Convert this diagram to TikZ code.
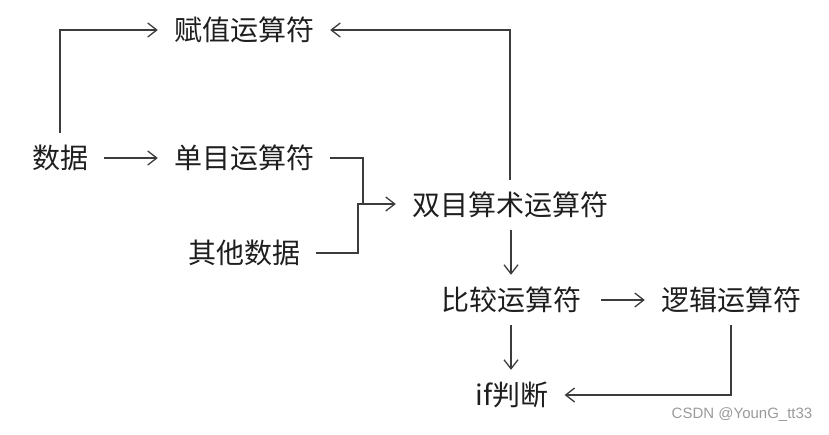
\documentclass[tikz,border=0pt]{standalone}
\usepackage{fontspec}
\newfontfamily\cjkfont{Noto Sans CJK SC}
\newfontfamily\wmfont{Liberation Sans}
\usetikzlibrary{arrows.meta}
\definecolor{linec}{HTML}{3C3C3C}
\definecolor{textc}{HTML}{1E1E1E}
\definecolor{wmc}{HTML}{9A9A9A}
\tikzset{
  lbl/.style={inner xsep=16pt, inner ysep=0pt, minimum height=50pt, text=textc, font=\cjkfont\fontsize{28}{30}\selectfont},
  conn/.style={draw=linec, line width=1.3pt},
  arr/.style={conn, -{Straight Barb[length=9pt,width=14pt,line width=1.3pt]}}
}
\begin{document}
\begin{tikzpicture}[x=1pt,y=1pt]
\useasboundingbox (0,0) rectangle (829,-434);
\node[lbl] (fz) at (244,-30) {赋值运算符};
\node[lbl] (sj) at (60,-158) {数据};
\node[lbl] (dm) at (244,-158) {单目运算符};
\node[lbl] (qt) at (244,-253) {其他数据};
\node[lbl] (sm) at (510,-205) {双目算术运算符};
\node[lbl] (bj) at (511,-300) {比较运算符};
\node[lbl] (lj) at (731,-300) {逻辑运算符};
\node[lbl] (ifp) at (512,-395) {if判断};
\node[text=wmc, font=\wmfont\fontsize{15}{17}\selectfont] (wm) at (742,-415) {CSDN @YounG\_tt33};
\coordinate (j1) at (363,-204);
\coordinate (j2) at (358,-204);
\draw[arr] (sj.north) |- (fz.west);
\draw[arr] (sj.east) -- (dm.west);
\draw[conn] (qt.east) -| (j2) -- (j1);
\draw[arr] (dm.east) -| (j1) -- (sm.west |- j1);
\draw[arr] (sm.north) |- (fz.east);
\draw[arr] (sm.south -| bj.north) -- (bj.north);
\draw[arr] ([xshift=4pt]bj.east) -- (lj.west);
\draw[arr] (bj.south) -- (bj.south |- ifp.north);
\draw[arr] (lj.south) |- (ifp.east);
\end{tikzpicture}
\end{document}
